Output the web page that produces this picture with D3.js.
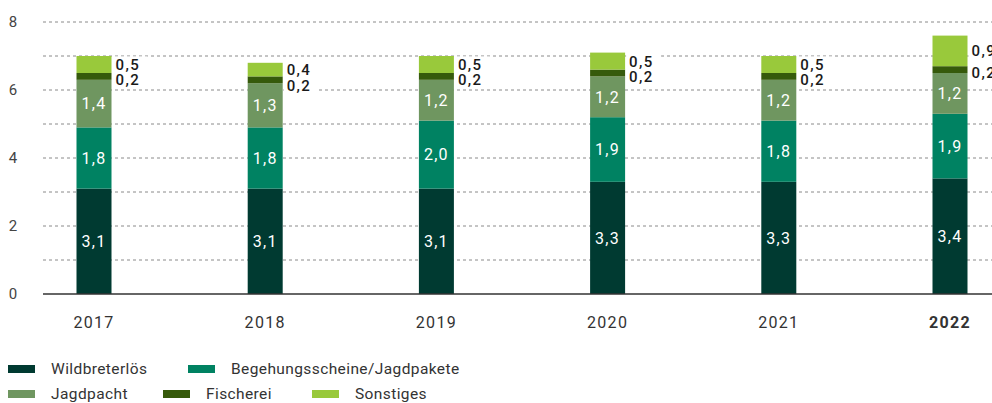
<!DOCTYPE html>
<html>
<head>
<meta charset="utf-8">
<script src="https://cdn.jsdelivr.net/npm/d3@7"></script>
<style>
  body { margin: 0; background: #fff; }
  svg { display: block; font-family: Roboto, "DejaVu Sans", sans-serif; }
</style>
</head>
<body>
<svg id="chart" width="992" height="403"></svg>
<script>
var years = ["2017", "2018", "2019", "2020", "2021", "2022"];
var series = ["Wildbreterlös", "Begehungsscheine/Jagdpakete", "Jagdpacht", "Fischerei", "Sonstiges"];
var wildbret = [3.1, 3.1, 3.1, 3.3, 3.3, 3.4];
var begehung = [1.8, 1.8, 2.0, 1.9, 1.8, 1.9];
var jagdpacht = [1.4, 1.3, 1.2, 1.2, 1.2, 1.2];
var fischerei = [0.2, 0.2, 0.2, 0.2, 0.2, 0.2];
var sonstiges = [0.5, 0.4, 0.5, 0.5, 0.5, 0.9];
var yTicks = [0, 2, 4, 6, 8];
var colors = ["#003a31", "#008262", "#6f9660", "#365a0b", "#99c93b"];

var rows = years.map(function(y, i) {
  return {year: y, "Wildbreterlös": wildbret[i], "Begehungsscheine/Jagdpakete": begehung[i],
    "Jagdpacht": jagdpacht[i], "Fischerei": fischerei[i], "Sonstiges": sonstiges[i]};
});

var svg = d3.select("#chart");
var fmt = function(v) { return d3.format(".1f")(v).replace(".", ","); };

var x = d3.scalePoint().domain(years).range([94, 950]);
var y = d3.scaleLinear().domain([0, 8]).range([294, 22]);
var barW = 35;
var color = d3.scaleOrdinal().domain(series).range(colors);

// gridlines
svg.append("g").selectAll("line")
  .data(d3.range(1, 9))
  .join("line")
    .attr("x1", 43).attr("x2", 992)
    .attr("y1", function(d) { return y(d); })
    .attr("y2", function(d) { return y(d); })
    .attr("stroke", "#8a8a8a")
    .attr("stroke-width", 1)
    .attr("stroke-dasharray", "3,3");

// y labels
svg.append("g").selectAll("text")
  .data(yTicks)
  .join("text")
    .attr("x", 13).attr("y", function(d) { return y(d); })
    .attr("dy", "0.35em")
    .attr("text-anchor", "middle")
    .attr("fill", "#444")
    .style("font-size", "15px")
    .text(function(d) { return d; });

var stacked = d3.stack().keys(series)(rows);

var layer = svg.append("g").selectAll("g")
  .data(stacked)
  .join("g")
    .attr("fill", function(d) { return color(d.key); });

layer.selectAll("rect")
  .data(function(d) { return d; })
  .join("rect")
    .attr("x", function(d) { return x(d.data.year) - barW / 2; })
    .attr("width", barW)
    .attr("y", function(d) { return y(d[1]); })
    .attr("height", function(d) { return y(d[0]) - y(d[1]); });

// inside labels
stacked.slice(0, 3).forEach(function(s) {
  svg.append("g").selectAll("text")
    .data(s)
    .join("text")
      .attr("x", function(d) { return x(d.data.year); })
      .attr("y", function(d) { return y((d[0] + d[1]) / 2); })
      .attr("dy", "0.36em")
      .attr("text-anchor", "middle")
      .attr("fill", "#fff")
      .style("font-size", "16px")
      .style("letter-spacing", "1.3px")
      .text(function(d) { return fmt(d[1] - d[0]); });
});

// outside labels for Fischerei + Sonstiges
var outG = svg.append("g");
rows.forEach(function(r, i) {
  var son = stacked[4][i], fis = stacked[3][i];
  var ySon = y((son[0] + son[1]) / 2);
  var yFis = Math.max(y((fis[0] + fis[1]) / 2) + 3, ySon + 15.5);
  var tx = x(r.year) + barW / 2 + 4;
  outG.append("rect")
    .attr("x", tx - 3).attr("y", ySon - 8)
    .attr("width", 35).attr("height", yFis - ySon + 16)
    .attr("fill", "#fff");
  [[ySon, r["Sonstiges"]], [yFis, r["Fischerei"]]].forEach(function(p) {
    outG.append("text")
      .attr("x", tx)
      .attr("y", p[0])
      .attr("dy", "0.36em")
      .attr("fill", "#1a1a1a")
      .style("font-size", "15px")
      .style("font-weight", "500")
      .style("letter-spacing", "1.4px")
      .text(fmt(p[1]));
  });
});

// baseline
svg.append("line")
  .attr("x1", 43).attr("x2", 992)
  .attr("y1", y(0)).attr("y2", y(0))
  .attr("stroke", "#333").attr("stroke-width", 1.5);

// x labels
svg.append("g").selectAll("text")
  .data(years)
  .join("text")
    .attr("x", function(d) { return x(d); })
    .attr("y", 322)
    .attr("dy", "0.35em")
    .attr("text-anchor", "middle")
    .attr("fill", "#333")
    .style("font-size", "16px")
    .style("letter-spacing", "1.3px")
    .style("font-weight", function(d) { return d === "2022" ? "bold" : "normal"; })
    .text(function(d) { return d; });

// legend
var legendPos = [[8, 369], [188, 369], [8, 394], [163, 394], [312, 394]];
var leg = svg.append("g").selectAll("g")
  .data(series)
  .join("g")
    .attr("transform", function(d, i) { return "translate(" + legendPos[i][0] + "," + legendPos[i][1] + ")"; });
leg.append("rect")
  .attr("x", 0).attr("y", -4)
  .attr("width", 27).attr("height", 8)
  .attr("fill", function(d) { return color(d); });
leg.append("text")
  .attr("x", 43).attr("y", 0)
  .attr("dy", "0.35em")
  .attr("fill", "#333")
  .style("font-size", "15.5px")
  .style("letter-spacing", "0.4px")
  .text(function(d) { return d; });
</script>
</body>
</html>
